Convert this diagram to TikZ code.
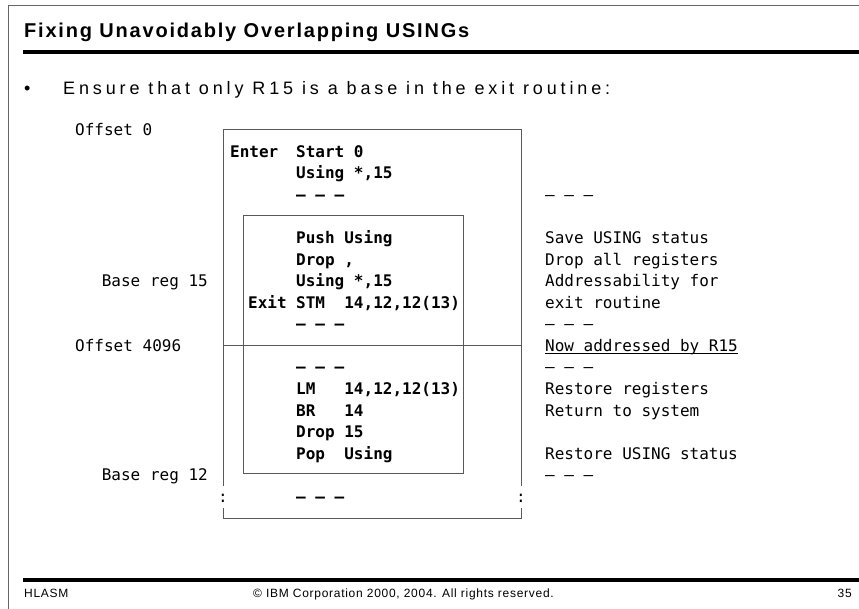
\documentclass[tikz,border=0pt]{standalone}
\usepackage{fontspec}
\setmainfont{Liberation Sans}
\setmonofont{DejaVu Sans Mono}
\newfontfamily\titlefont[LetterSpace=9]{Liberation Sans}
\newfontfamily\bodyfont[LetterSpace=21.5]{Liberation Sans}
\newfontfamily\footfont[LetterSpace=6]{Liberation Sans}
\usetikzlibrary{positioning}

\newcommand\rowh{21.56}
\newcommand\rowb{135.8}

\begin{document}
\begin{tikzpicture}[x=1pt, y=-1pt,
    mono/.style={anchor=base west, inner sep=0pt, font=\fontsize{16}{19}\selectfont\ttfamily},
    code/.style={mono, font=\fontsize{16}{19}\selectfont\ttfamily\bfseries},
    foot/.style={anchor=base west, inner sep=0pt, font=\footfont\fontsize{12}{14}\selectfont},
    boxline/.style={draw=black!65, line width=0.9pt}]

    \useasboundingbox (0,0) rectangle (859,609);

    % slide frame and rules
    \draw[black!60, line width=1pt] (8,609) -- (8,6) -- (859,6);
    \draw[line width=4pt] (23,52) -- (859,52);
    \draw[line width=4pt] (23,580) -- (859,580);

    \node[anchor=base west, inner sep=0pt, font=\titlefont\fontsize{20}{24}\selectfont\bfseries]
        (title) at (24,37.7) {Fixing Unavoidably Overlapping USINGs};
    \node[anchor=base west, inner sep=0pt, font=\bodyfont\fontsize{18}{22}\selectfont]
        (dot) at (24,94.3) {•};
    \node[anchor=base west, inner sep=0pt, font=\bodyfont\fontsize{18}{22}\selectfont]
        (ensure) at (63,94.3) {Ensure that only R15 is a base in the exit routine:};

    % storage boxes
    \draw[boxline] (223,486) -- (223,129) -- (521,129) -- (521,486);
    \draw[boxline] (223,508) -- (223,518) -- (521,518) -- (521,508);
    \draw[boxline] (243,215) rectangle (463,473);
    \draw[boxline] (223,345) -- (521,345);
    \node[mono, anchor=base] (colL) at (223,{\rowb+17*\rowh}) {:};
    \node[mono, anchor=base] (colR) at (521,{\rowb+17*\rowh}) {:};

    % left labels
    \node[mono] (off0) at (75,{\rowb}) {Offset 0};
    \node[mono, anchor=base east] (base15) at (208,{\rowb+7*\rowh}) {Base reg 15};
    \node[mono] (off4096) at (75,{\rowb+10*\rowh}) {Offset 4096};
    \node[mono, anchor=base east] (base12) at (208,{\rowb+16*\rowh}) {Base reg 12};

    % program text
    \node[code] (enter) at (230,{\rowb+\rowh}) {Enter};
    \node[code] (exit) at (248,{\rowb+8*\rowh}) {Exit};
    \foreach \r/\t in {1/{Start 0}, 2/{Using *,15}, 3/{– – –}, 5/{Push Using},
        6/{Drop ,}, 7/{Using *,15}, 8/{STM\ \ 14,12,12(13)}, 9/{– – –}, 11/{– – –},
        12/{LM\ \ \ 14,12,12(13)}, 13/{BR\ \ \ 14}, 14/{Drop 15}, 15/{Pop\ \ Using}, 17/{– – –}}{
        \node[code] (code\r) at (296,{\rowb+\r*\rowh}) {\t};
    }

    % comments
    \foreach \r/\t in {3/{– – –}, 5/{Save USING status}, 6/{Drop all registers},
        7/{Addressability for}, 8/{exit routine}, 9/{– – –}, 10/{Now addressed by R15},
        11/{– – –}, 12/{Restore registers}, 13/{Return to system},
        15/{Restore USING status}, 16/{– – –}}{
        \node[mono] (cmt\r) at (545,{\rowb+\r*\rowh}) {\t};
    }
    \draw[line width=0.8pt] ([yshift=-2pt]cmt10.base west) -- ([yshift=-2pt]cmt10.base east);

    % footer
    \node[foot] (hlasm) at (24,597) {HLASM};
    \node[foot] (copy) at (253,597) {© IBM Corporation 2000, 2004. All rights reserved.};
    \node[foot, anchor=base east] (page) at (852,597) {35};

\end{tikzpicture}
\end{document}
